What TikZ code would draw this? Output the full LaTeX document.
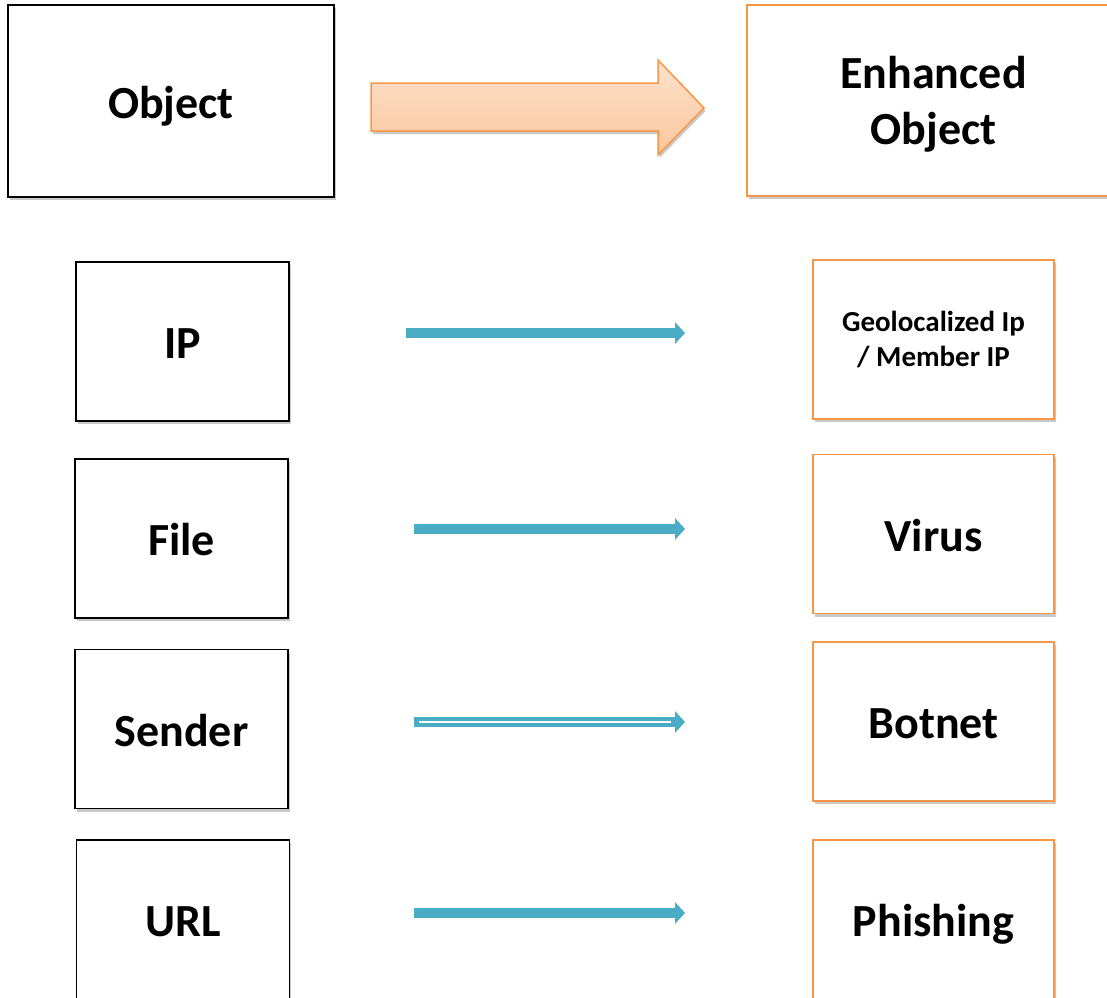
\documentclass[tikz,border=0pt]{standalone}
\usepackage{fontspec}
\setmainfont{Carlito}
\usetikzlibrary{arrows.meta,shadows}
\definecolor{accorange}{HTML}{F79646}
\definecolor{accblue}{HTML}{4BACC6}
\definecolor{peachtop}{HTML}{FDE2CC}
\definecolor{peachbot}{HTML}{FBC69C}
\tikzset{
    boxshadow/.style={drop shadow={shadow xshift=1.5pt,shadow yshift=-3pt,
        opacity=0.3,fill=black!70}},
    objbox/.style={draw=black,line width=1.8pt,fill=white,boxshadow,
        minimum width=213pt,minimum height=159pt,inner sep=0pt,
        text height=34pt,text depth=0pt,
        font=\fontsize{46}{56}\selectfont\bfseries},
    enhbox/.style={objbox,draw=accorange,minimum width=241pt},
    twolines/.style={align=center,text height=,text depth=},
    flow/.style={draw=accblue,line width=10pt,
        -{Triangle[length=10pt,width=21pt]}},
}
\begin{document}
\begin{tikzpicture}[x=1pt,y=-1pt]
    \useasboundingbox (0,0) rectangle (1107,997);
    % top row
    \node (obj) [objbox,minimum width=326pt,minimum height=192pt] at (171,101) {Object};
    \node (enh) [enhbox,minimum width=373pt,minimum height=191pt,
        twolines,text depth=0pt] at (933.5,100.5) {Enhanced\\Object};
    \draw[draw=accorange,line width=1.5pt,top color=peachtop,bottom color=peachbot,
        boxshadow,line join=miter]
        (371,83) -- (658,83) -- (658,60) -- (704,108) -- (658,155)
        -- (658,131) -- (371,131) -- cycle;
    % objects
    \node (ip) [objbox] at (182.5,341.5) {IP};
    \node (file) [objbox] at (181.5,538.5) {File};
    \node (sender) [objbox] at (181.5,729) {Sender};
    \node (url) [objbox] at (183,919.5) {URL};
    % enhanced objects
    \node (geo) [enhbox,twolines,font=\fontsize{29}{35}\selectfont\bfseries]
        at (933.5,339.5) {Geolocalized Ip\\/ Member IP};
    \node (virus) [enhbox] at (933.5,534) {Virus};
    \node (botnet) [enhbox] at (933.5,721.5) {Botnet};
    \node (phish) [enhbox] at (933.5,919.5) {Phishing};
    % links
    \draw[flow,shorten <=116pt,shorten >=127pt]
        ([yshift=8.5pt]ip.east) -- ([yshift=8.5pt]ip.east -| geo.west);
    \draw[flow,shorten <=125pt,shorten >=127pt]
        ([yshift=9.5pt]file.east) -- ([yshift=9.5pt]file.east -| virus.west);
    \draw[flow,shorten <=125pt,shorten >=127pt,
        postaction={draw=white,line width=1.2pt,-,shorten <=130pt,shorten >=141pt}]
        ([yshift=7pt]sender.east) -- ([yshift=7pt]sender.east -| botnet.west);
    \draw[flow,shorten <=124pt,shorten >=127pt]
        ([yshift=6.5pt]url.east) -- ([yshift=6.5pt]url.east -| phish.west);
\end{tikzpicture}
\end{document}
